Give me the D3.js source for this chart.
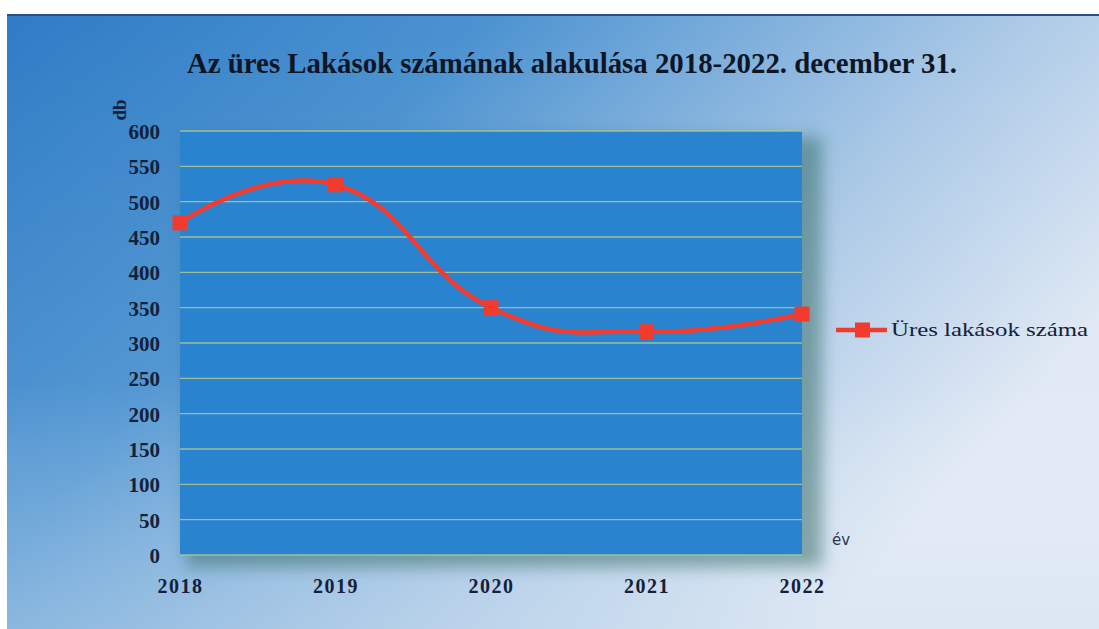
<!DOCTYPE html>
<html><head><meta charset="utf-8">
<script src="https://cdn.jsdelivr.net/npm/d3@7"></script>
<style>html,body{margin:0;padding:0;background:#fff;overflow:hidden}</style>
</head><body>
<svg id="c" width="1099" height="629"></svg>
<script>
const years = ["2018","2019","2020","2021","2022"];
const values = [470, 524, 350, 316, 341];
const yTicks = [0,50,100,150,200,250,300,350,400,450,500,550,600];
const title = "Az üres Lakások számának alakulása 2018-2022. december 31.";
const seriesName = "Üres lakások száma";
const yLabel = "db";
const xLabel = "év";

const svg = d3.select("#c");
const defs = svg.append("defs");
const bg = defs.append("linearGradient").attr("id","bg").attr("x1","0").attr("y1","0").attr("x2","1").attr("y2","0.5");
bg.append("stop").attr("offset","0").attr("stop-color","#2f7cc6");
bg.append("stop").attr("offset","0.35").attr("stop-color","#4b92d0");
bg.append("stop").attr("offset","0.72").attr("stop-color","#a6c6e5");
bg.append("stop").attr("offset","1").attr("stop-color","#dfe8f4");
const bg2 = defs.append("linearGradient").attr("id","bg2").attr("x1","0").attr("y1","0").attr("x2","0").attr("y2","1");
bg2.append("stop").attr("offset","0").attr("stop-color","#ffffff").attr("stop-opacity",0);
bg2.append("stop").attr("offset","0.6").attr("stop-color","#ffffff").attr("stop-opacity",0.05);
bg2.append("stop").attr("offset","1").attr("stop-color","#d6e4f0").attr("stop-opacity",0.4);
const sh = defs.append("filter").attr("id","sh").attr("x","-10%").attr("y","-10%").attr("width","130%").attr("height","130%");
sh.append("feGaussianBlur").attr("stdDeviation",8);

svg.append("rect").attr("x",7).attr("y",15).attr("width",1092).attr("height",614).attr("fill","url(#bg)");
svg.append("rect").attr("x",7).attr("y",15).attr("width",1092).attr("height",614).attr("fill","url(#bg2)");
svg.append("line").attr("x1",7).attr("x2",1099).attr("y1",15).attr("y2",15).attr("stroke","#2a4f86").attr("stroke-width",2);

const m = {l:180, r:802, t:131, b:555};
const x = d3.scalePoint().domain(years).range([m.l, m.r]);
const y = d3.scaleLinear().domain([0,600]).range([m.b, m.t]);

svg.append("rect").attr("x",m.l+6).attr("y",m.t+6).attr("width",m.r-m.l+14).attr("height",m.b-m.t+6)
  .attr("fill","#3b6f6a").attr("opacity",0.55).attr("filter","url(#sh)");
svg.append("rect").attr("x",m.l).attr("y",m.t).attr("width",m.r-m.l).attr("height",m.b-m.t).attr("fill","#2a83cf");

svg.append("g").selectAll("line").data(yTicks).join("line")
  .attr("x1",m.l).attr("x2",m.r).attr("y1",d=>y(d)).attr("y2",d=>y(d))
  .attr("stroke","#b2c98f").attr("stroke-width",1.3).attr("opacity",0.85);

const yAxis = svg.append("g").attr("transform",`translate(${m.l-20},0)`)
  .call(d3.axisLeft(y).tickValues(yTicks).tickSize(0).tickPadding(0));
yAxis.select(".domain").remove();
yAxis.selectAll("text").attr("font-family","'Liberation Serif',serif").attr("font-weight","bold")
  .attr("font-size",21).attr("fill","#14213a").attr("dy","0.35em");

const xAxis = svg.append("g").attr("transform",`translate(0,${m.b})`)
  .call(d3.axisBottom(x).tickSize(0).tickPadding(0));
xAxis.select(".domain").remove();
xAxis.selectAll("text").attr("font-family","'Liberation Serif',serif").attr("font-weight","bold")
  .attr("font-size",20).attr("fill","#14213a").attr("y",38).attr("dy",0).attr("letter-spacing",1.5);

const data = years.map((yr,i)=>({yr, v: values[i]}));
const line = d3.line().x(d=>x(d.yr)).y(d=>y(d.v)).curve(d3.curveCardinal.tension(-0.4));
svg.append("path").datum(data).attr("d",line).attr("fill","none").attr("stroke","#f23b2e").attr("stroke-width",4.5);
svg.append("g").selectAll("rect").data(data).join("rect")
  .attr("x",d=>x(d.yr)-7.5).attr("y",d=>y(d.v)-7.5).attr("width",15).attr("height",15).attr("fill","#f23b2e");

svg.append("text").attr("x",572).attr("y",73).attr("text-anchor","middle")
  .attr("font-family","'Liberation Serif',serif").attr("font-weight","bold").attr("font-size",29)
  .attr("fill","#0e1626").attr("textLength",770).attr("lengthAdjust","spacingAndGlyphs").text(title);

svg.append("text").attr("transform","translate(126,110) rotate(-90)").attr("text-anchor","middle")
  .attr("font-family","'Liberation Serif',serif").attr("font-weight","bold").attr("font-size",19).attr("fill","#14213a").text(yLabel);

svg.append("text").attr("x",832).attr("y",545).attr("font-family","'DejaVu Sans',sans-serif")
  .attr("font-size",15).attr("fill","#2a3550").text(xLabel);

const ly = 330;
svg.append("line").attr("x1",836).attr("x2",887).attr("y1",ly).attr("y2",ly).attr("stroke","#f23b2e").attr("stroke-width",4.5);
svg.append("rect").attr("x",855).attr("y",ly-7.5).attr("width",15).attr("height",15).attr("fill","#f23b2e");
svg.append("text").attr("x",891).attr("y",ly+6).attr("font-family","'Liberation Serif',serif")
  .attr("font-size",19).attr("fill","#14213a").attr("textLength",197).attr("lengthAdjust","spacingAndGlyphs").text(seriesName);
</script>
</body></html>
